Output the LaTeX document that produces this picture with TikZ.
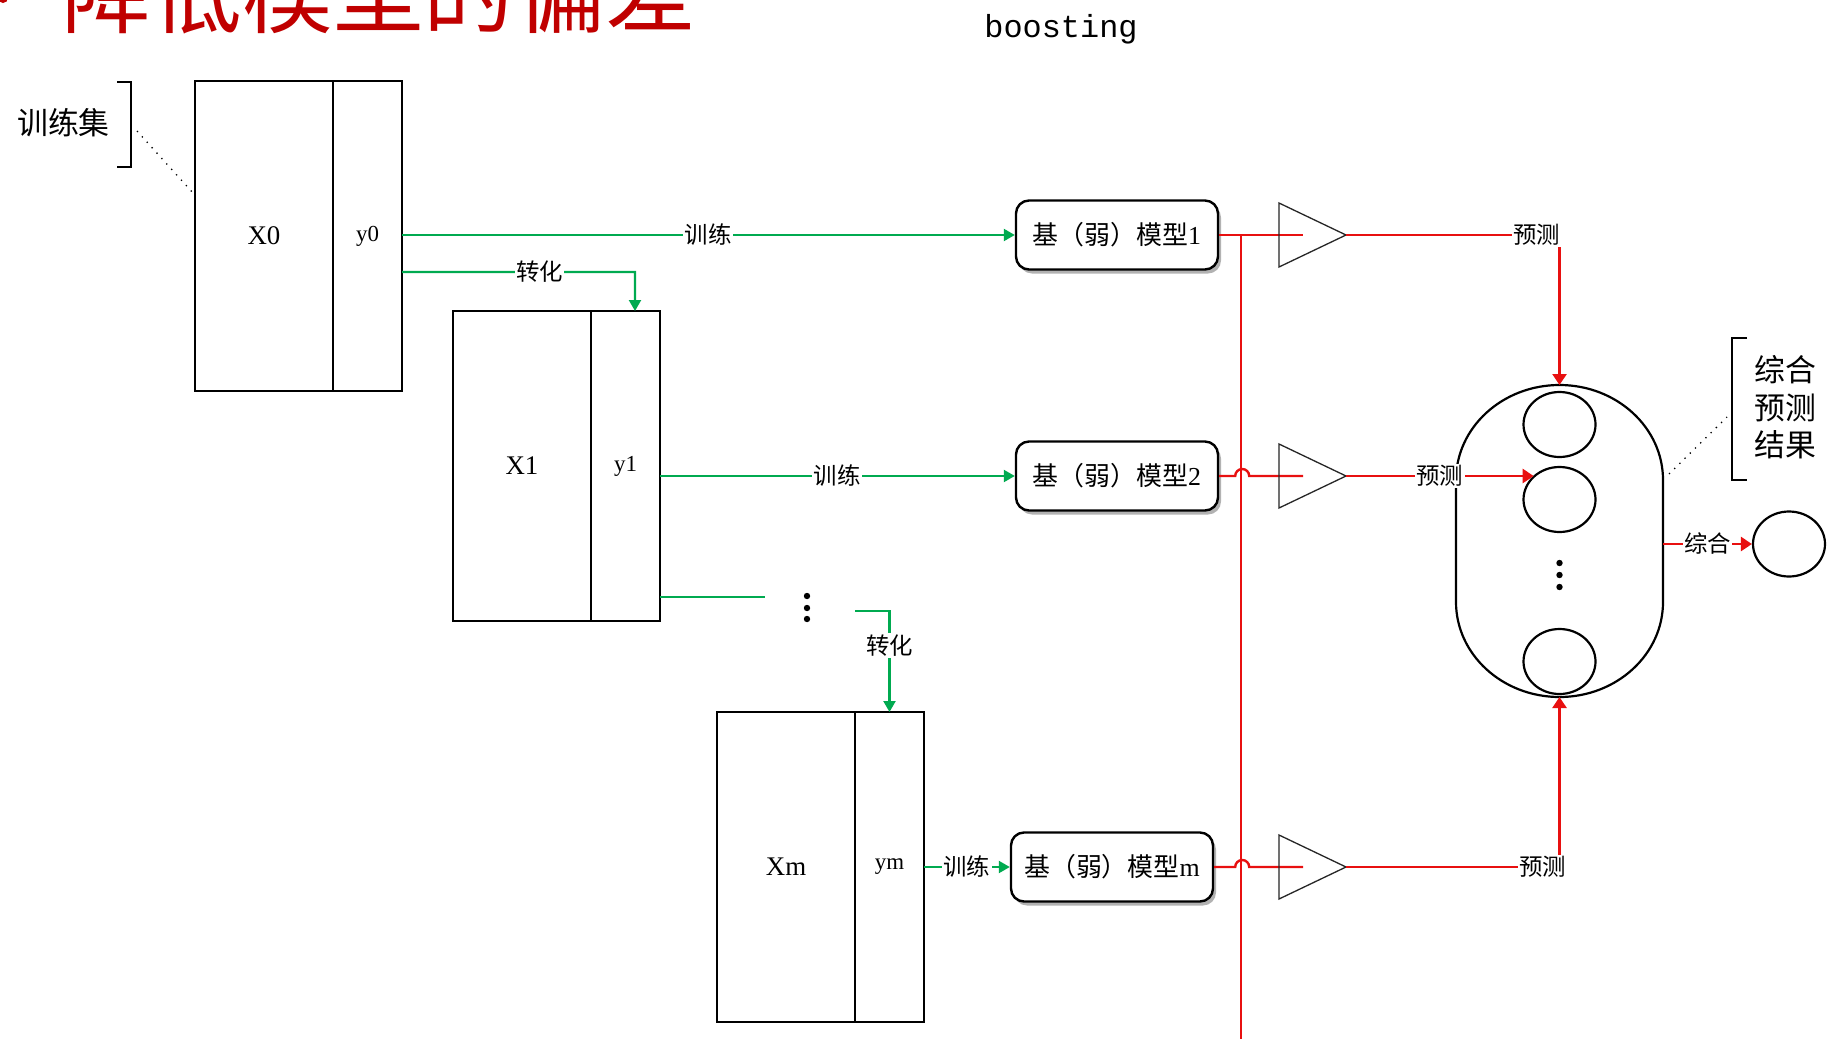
\documentclass[tikz,border=0pt]{standalone}
\usepackage{fontspec}
\setmainfont{Liberation Serif}
\newfontfamily\cjk{Noto Sans CJK SC}
\newfontfamily\monofnt{Liberation Mono}
\usetikzlibrary{arrows.meta,shadows,shapes.geometric}
\definecolor{tgreen}{RGB}{0,170,80}
\definecolor{tred}{RGB}{232,16,16}
\definecolor{ttitle}{RGB}{192,0,0}
\begin{document}
\begin{tikzpicture}[x=1bp,y=-1bp,
  xcol/.style={draw, line width=2.4bp, minimum width=138bp, minimum height=310bp, outer sep=0pt, inner sep=0pt, anchor=north west, font=\fontsize{27}{27}\selectfont},
  ycol/.style={xcol, minimum width=69bp, font=\fontsize{23}{23}\selectfont},
  model/.style={draw, line width=2.4bp, rounded corners=13bp, minimum width=202bp, minimum height=69bp, fill=white, inner sep=0pt, drop shadow={shadow xshift=3bp, shadow yshift=-4bp, fill=black, opacity=0.3}, font=\fontsize{26}{26}\selectfont},
  gline/.style={draw=tgreen, line width=2.2bp},
  garrow/.style={gline, -{Triangle[length=11bp,width=12bp]}},
  rline/.style={draw=tred, line width=2.4bp},
  rarrow/.style={rline, -{Triangle[length=11bp,width=14bp]}},
  lbl/.style={fill=white, inner sep=1.5bp, font=\cjk\fontsize{23.5}{23.5}\selectfont},
  tri/.style={draw=black!85, line width=1.3bp},
  oval/.style={draw, line width=2.2bp, ellipse, minimum width=72bp, minimum height=65bp, inner sep=0pt},
  leader/.style={draw, line width=1.3bp, dash pattern=on 1.3bp off 6bp},
  brk/.style={draw, line width=2.2bp},
]
\useasboundingbox[fill=white] (0,0) rectangle (1831,1038);

% title and heading
\fill[ttitle] (3,-2) circle (5bp);
\node[anchor=base west, inner sep=0pt, text=ttitle, font=\cjk\fontsize{91}{91}\selectfont] (title) at (61,26) {降低模型的偏差};
\node[anchor=base, inner sep=0pt, font=\monofnt\fontsize{32}{32}\selectfont] (boost) at (1061,37) {boosting};

% data boxes
\node[xcol] (X0) at (195,81) {X0};
\node[ycol] (y0) at (X0.north east) {y0};
\node[xcol] (X1) at (453,311) {X1};
\node[ycol] (y1) at (X1.north east) {y1};
\node[xcol] (Xm) at (717,712) {Xm};
\node[ycol] (ym) at (Xm.north east) {ym};

% training set bracket
\node[font=\cjk\fontsize{31}{31}\selectfont, inner sep=0pt] (trainset) at (63.5,123) {训练集};
\coordinate (bk1) at (131,82);
\draw[brk] (bk1) ++(-14,0) -- (bk1) -- ++(0,85) -- ++(-14,0);
\coordinate (bk1m) at (137,131);
\coordinate (x0pt) at (193,193);
\draw[leader] (bk1m) -- (x0pt);

% models
\node[model] (m1) at (1117,235) {{\cjk 基（弱）模型}1};
\node[model] (m2) at (1117,476) {{\cjk 基（弱）模型}2};
\node[model] (mm) at (1112,867) {{\cjk 基（弱）模型}m};

% green connectors
\draw[garrow] (y0.east |- m1.west) -- node[lbl]{训练} (m1.west);
\draw[garrow] ([yshift=-36bp]y0.east) -- node[lbl,pos=0.59]{转化} ++(233,0) -- ([xshift=9.5bp]y1.north);
\draw[garrow] (y1.east |- m2.west) -- node[lbl]{训练} (m2.west);
\draw[gline] ([yshift=-131bp]y1.east) -- ++(105,0);
\foreach \yy in {596,608,619} \fill (807,\yy) circle (3.2bp);
\coordinate (t2) at (855,611);
\draw[garrow] (t2) -| node[lbl,pos=0.67]{转化} (ym.north);
\draw[garrow] (ym.east |- mm.west) -- node[lbl]{训练} (mm.west);

% red bus and model outputs
\coordinate (j1) at (1241,235);
\draw[rline] (m1.east) -- ++(84,0);
\draw[rline] (j1) -- ++(0,815);
\draw[rline] (m2.east) -- ++(16,0) arc[start angle=180,end angle=0,radius=7bp] -- ++(54,0);
\draw[rline] (mm.east) -- ++(21,0) arc[start angle=180,end angle=0,radius=7bp] -- ++(54,0);

% triangles
\coordinate (a1) at (1346,235);
\coordinate (a2) at (1346,476);
\coordinate (am) at (1346,867);
\foreach \a in {a1,a2,am} \draw[tri] (\a) -- ++(-67,-32) -- ++(0,64) -- cycle;

% combined predictions
\draw[line width=2.2bp] (1456,480) arc[start angle=180, end angle=0, x radius=103.5bp, y radius=95bp] -- (1663,602) arc[start angle=0, end angle=-180, x radius=103.5bp, y radius=95bp] -- cycle;
\coordinate (etop) at (1559.5,385);
\coordinate (ebot) at (1559.5,697);
\coordinate (eright) at (1663,544);
\coordinate (eleader) at (1669,474);
\node[oval] (c1) at (1559.5,424.5) {};
\node[oval] (c2) at (1559.5,499.5) {};
\node[oval] (c3) at (1559.5,661.5) {};
\foreach \yy in {563,575,587} \fill (1559.5,\yy) circle (3.2bp);
\node[oval] (res) at (1789,544) {};

\draw[rarrow] (a1) -| node[lbl,pos=0.446]{预测} (etop);
\draw[rarrow] (a2) -- node[lbl]{预测} (a2 -| c2.137);
\draw[rarrow] (am) -| node[lbl,pos=0.46]{预测} (ebot);
\draw[rarrow] (eright) -- node[lbl]{综合} (res.west);

% result bracket
\coordinate (bk2) at (1732,338);
\draw[brk] (bk2) ++(15,0) -- (bk2) -- ++(0,142) -- ++(15,0);
\node[font=\cjk\fontsize{31}{37.5}\selectfont, align=center, inner sep=0pt] (restxt) at (1785.5,407.5) {综合\\预测\\结果};
\coordinate (bk2m) at (1727,417);
\draw[leader] (eleader) -- (bk2m);
\end{tikzpicture}
\end{document}
